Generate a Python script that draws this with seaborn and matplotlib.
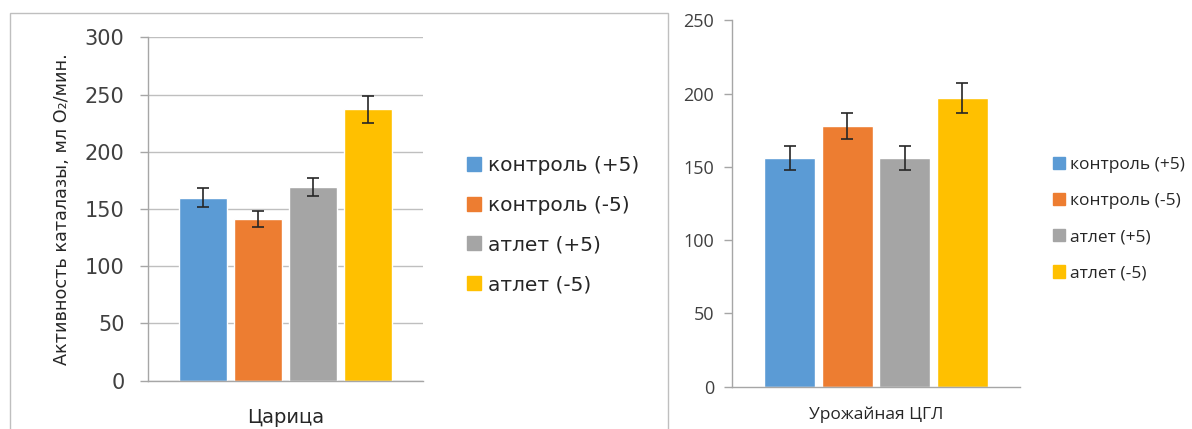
import pandas as pd
import numpy as np
import seaborn as sns
import matplotlib.pyplot as plt
from matplotlib.patches import Rectangle

# values
groups = ['контроль (+5)', 'контроль (-5)', 'атлет (+5)', 'атлет (-5)']
colors = ['#5B9BD5', '#ED7D31', '#A5A5A5', '#FFC000']

left_cat = 'Царица'
left_vals = [160, 141, 169, 237]
left_err = [8, 7, 8, 12]

right_cat = 'Урожайная ЦГЛ'
right_vals = [156, 178, 156, 197]
right_err = [8, 9, 8, 10]

left_ticks = [0, 50, 100, 150, 200, 250, 300]
right_ticks = [0, 50, 100, 150, 200, 250]

sns.set_style('white')
plt.rcParams['font.family'] = ['DejaVu Sans']

fig = plt.figure(figsize=(11.92, 4.29), dpi=100)

# frame round the left chart
fig.patches.append(Rectangle((10/1192, -0.05), (668-10)/1192, 1.05 - 13/429,
                             transform=fig.transFigure, fill=False,
                             edgecolor='#bfbfbf', linewidth=1))

ax1 = fig.add_axes([148/1192, 1-380.7/429, 275/1192, 343.4/429])
ax2 = fig.add_axes([732/1192, 1-386.7/429, 288/1192, 366.4/429])


def draw(ax, cat, vals, errs, gap):
    df = pd.DataFrame({'cat': [cat]*len(groups), 'group': groups, 'value': vals})
    sns.barplot(data=df, x='cat', y='value', hue='group', hue_order=groups,
                palette=colors, gap=gap, errorbar=None, ax=ax,
                saturation=1, width=0.8)
    for c, v, e in zip(ax.containers, vals, errs):
        b = c.patches[0]
        ax.errorbar(b.get_x() + b.get_width()/2, v, yerr=e, fmt='none',
                    ecolor='#262626', elinewidth=1.2, capsize=4.3, capthick=1.2)
    ax.set_xlim(-0.5, 0.5)
    ax.set_xlabel('')
    ax.set_ylabel('')
    for s in ['top', 'right']:
        ax.spines[s].set_visible(False)
    for s in ['left', 'bottom']:
        ax.spines[s].set_color('#a6a6a6')
        ax.spines[s].set_linewidth(1)
    ax.set_xticks([-0.5, 0.5], minor=True)
    ax.tick_params(axis='x', which='major', length=0)
    ax.tick_params(axis='x', which='minor', length=7, color='#a6a6a6', width=1)
    ax.tick_params(axis='y', length=6, color='#a6a6a6', width=1, left=True)
    ax.get_legend().remove()


draw(ax1, left_cat, left_vals, left_err, 0.13)
ax1.set_ylim(0, 300)
ax1.set_yticks(left_ticks)
ax1.yaxis.grid(True, color='#bfbfbf', linewidth=1)
ax1.set_axisbelow(True)
ax1.tick_params(axis='y', labelsize=15, labelcolor='#404040', pad=11)
ax1.tick_params(axis='x', which='major', labelsize=14, labelcolor='#262626', pad=20)
ax1.set_ylabel('Активность каталазы, мл O₂/мин.', fontsize=12.7, color='#262626')
ax1.yaxis.set_label_coords(-0.279, 0.5)

draw(ax2, right_cat, right_vals, right_err, 0.12)
ax2.set_ylim(0, 250)
ax2.set_yticks(right_ticks)
ax2.tick_params(axis='y', labelsize=13, labelcolor='#404040', pad=7)
ax2.tick_params(axis='x', which='major', labelsize=12.5, labelcolor='#262626', pad=14)
for t in ax2.get_yticklabels() + ax2.get_xticklabels():
    t.set_family('Open Sans')

handles = [Rectangle((0, 0), 1, 1, color=c) for c in colors]
ax1.legend(handles, groups, loc='upper left', bbox_to_anchor=(467/1192, 1-156/429),
           bbox_transform=fig.transFigure, frameon=False, fontsize=14.5,
           handlelength=0.7, handleheight=0.7, handletextpad=0.35,
           labelspacing=1.03, borderpad=0, borderaxespad=0,
           labelcolor='#262626')
ax2.legend(handles, groups, loc='upper left', bbox_to_anchor=(1053/1192, 1-157/429),
           bbox_transform=fig.transFigure, frameon=False,
           prop={'family': 'Open Sans', 'size': 12.5},
           handlelength=0.7, handleheight=0.7, handletextpad=0.3,
           labelspacing=1.15, borderpad=0, borderaxespad=0,
           labelcolor='#262626')

fig.savefig('out.png', dpi=100)
